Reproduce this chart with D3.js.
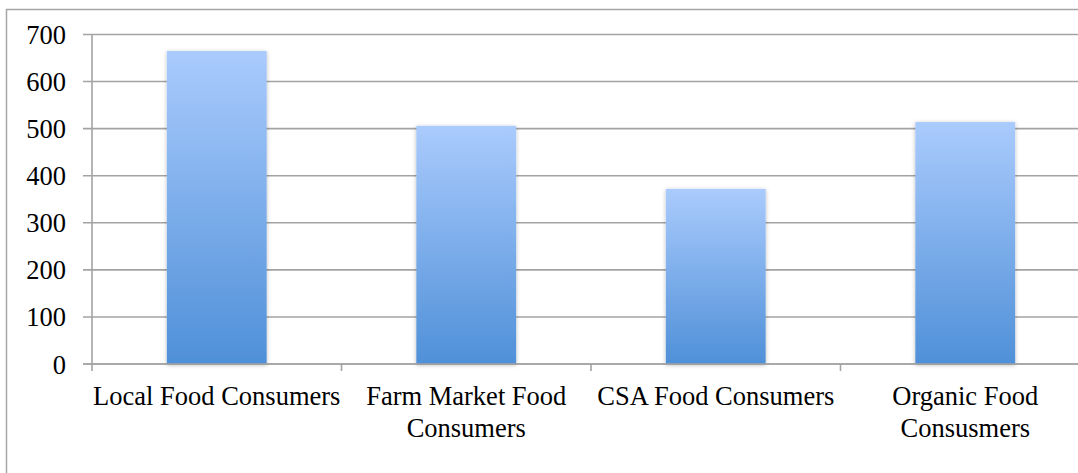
<!DOCTYPE html>
<html>
<head>
<meta charset="utf-8">
<script src="https://cdn.jsdelivr.net/npm/d3@7"></script>
<style>
  html, body { margin: 0; padding: 0; background: #fff; }
  svg { display: block; }
  text { font-family: "Liberation Serif", "Times New Roman", serif; fill: #000; }
</style>
</head>
<body>
<svg id="chart" width="1078" height="473"></svg>
<script>
// Consumer group counts
const categories = ["Local Food Consumers", "Farm Market Food Consumers", "CSA Food Consumers", "Organic Food Consusmers"];
const categoryLines = [["Local Food Consumers"], ["Farm Market Food", "Consumers"], ["CSA Food Consumers"], ["Organic Food", "Consusmers"]];
const values = [665, 506, 372, 514];
const yTicks = [0, 100, 200, 300, 400, 500, 600, 700];

const svg = d3.select("#chart");

// Plot frame
const plotLeft = 92, plotTop = 34.5, plotBottom = 364;
const bandWidth = 249.5;
const plotRight = plotLeft + bandWidth * categories.length;

const x = d3.scaleBand().domain(categories).range([plotLeft, plotRight]).paddingInner(0.6).paddingOuter(0.3);
const y = d3.scaleLinear().domain([0, 700]).range([plotBottom, plotTop]);

// Outer chart border
svg.append("rect")
  .attr("x", 6.5).attr("y", 9.5)
  .attr("width", 1100).attr("height", 500)
  .attr("fill", "none").attr("stroke", "#a6a6a6").attr("stroke-width", 1.5);

// Bar gradient and shadow
const defs = svg.append("defs");
const grad = defs.append("linearGradient").attr("id", "barGrad")
  .attr("x1", 0).attr("y1", 0).attr("x2", 0).attr("y2", 1);
grad.append("stop").attr("offset", "0%").attr("stop-color", "#aacbfd");
grad.append("stop").attr("offset", "100%").attr("stop-color", "#4f90d8");

const shadow = defs.append("filter").attr("id", "barShadow")
  .attr("x", "-20%").attr("y", "-20%").attr("width", "140%").attr("height", "140%");
shadow.append("feDropShadow").attr("dx", 0).attr("dy", 1)
  .attr("stdDeviation", 2.2).attr("flood-color", "#000").attr("flood-opacity", 0.28);

// Horizontal gridlines with left tick extension
svg.append("g")
  .selectAll("line")
  .data(yTicks)
  .join("line")
  .attr("x1", plotLeft - 9).attr("x2", 1090)
  .attr("y1", d => y(d)).attr("y2", d => y(d))
  .attr("stroke", "#a3a3a3").attr("stroke-width", 1.6);

// Y axis line
svg.append("line")
  .attr("x1", plotLeft).attr("x2", plotLeft)
  .attr("y1", plotTop).attr("y2", plotBottom + 7)
  .attr("stroke", "#a3a3a3").attr("stroke-width", 1.6);

// Category separator ticks
const sepTicks = d3.range(1, categories.length + 1).map(i => plotLeft + i * bandWidth);
svg.append("g")
  .selectAll("line")
  .data(sepTicks)
  .join("line")
  .attr("x1", d => d).attr("x2", d => d)
  .attr("y1", plotBottom).attr("y2", plotBottom + 7)
  .attr("stroke", "#a3a3a3").attr("stroke-width", 1.6);

// Y tick labels
svg.append("g")
  .selectAll("text")
  .data(yTicks)
  .join("text")
  .attr("x", 66)
  .attr("y", d => y(d))
  .attr("dy", "0.36em")
  .attr("text-anchor", "end")
  .attr("font-size", 26.5)
  .text(d => d);

// Bars
svg.append("g")
  .selectAll("rect")
  .data(values)
  .join("rect")
  .attr("x", (d, i) => x(categories[i]))
  .attr("y", d => y(d))
  .attr("width", x.bandwidth())
  .attr("height", d => plotBottom - y(d))
  .attr("fill", "url(#barGrad)")
  .attr("filter", "url(#barShadow)");

// Redraw baseline over bar bottoms
svg.append("line")
  .attr("x1", plotLeft - 9).attr("x2", 1090)
  .attr("y1", y(0)).attr("y2", y(0))
  .attr("stroke", "#a3a3a3").attr("stroke-width", 1.6);

// Category labels
const labels = svg.append("g")
  .selectAll("text")
  .data(categoryLines)
  .join("text")
  .attr("text-anchor", "middle")
  .attr("font-size", 26.5)
  .attr("transform", (d, i) => `translate(${x(categories[i]) + x.bandwidth() / 2},405)`);
labels.selectAll("tspan")
  .data(d => d)
  .join("tspan")
  .attr("x", 0)
  .attr("y", (d, i) => i * 31.7)
  .text(d => d);
</script>
</body>
</html>
